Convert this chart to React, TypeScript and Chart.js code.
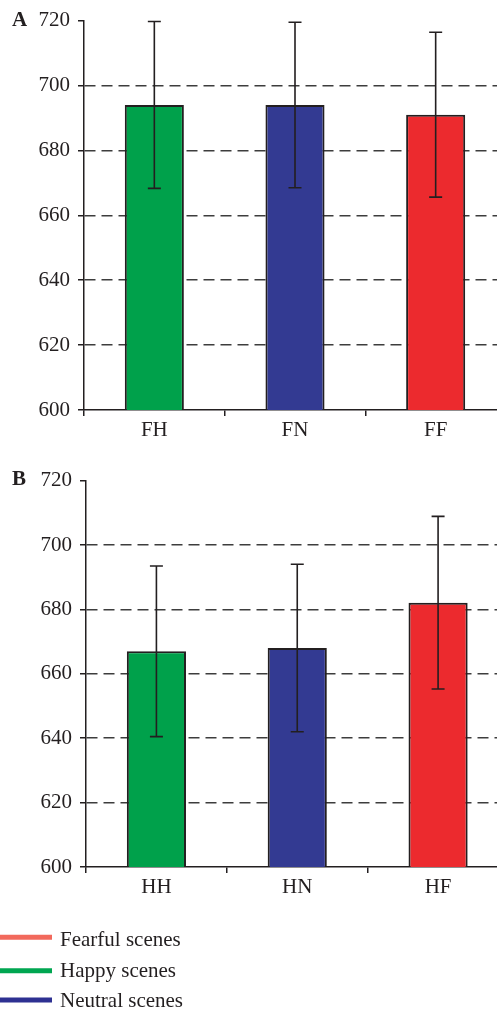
import React, { useEffect, useRef } from "react";
import { Chart, registerables } from "chart.js";

Chart.register(...registerables);

// ---- Data ----
const panelACategories = ["FH", "FN", "FF"];
const panelAMeans = [694, 694, 691];
const panelAErrors = [25.7, 25.5, 25.4];

const panelBCategories = ["HH", "HN", "HF"];
const panelBMeans = [667, 668, 682.1];
const panelBErrors = [26.5, 26, 26.8];

const barColors = ["#00a14b", "#333a92", "#ec2a2e"];
const yMin = 600;
const yMax = 720;
const yStep = 20;

const legendLabels = ["Fearful scenes", "Happy scenes", "Neutral scenes"];
const legendColors = ["#f2695c", "#00a651", "#2e3192"];

const INK = "#231f20";
const FONT = '"Liberation Serif", "Times New Roman", serif';
const FONT_SIZE = 21;

const errorBarPlugin = {
  id: "errorBars",
  afterDatasetsDraw(chart: any) {
    const ctx = chart.ctx;
    const meta = chart.getDatasetMeta(0);
    const ds: any = chart.data.datasets[0];
    const y = chart.scales.y;
    ctx.save();
    ctx.strokeStyle = INK;
    ctx.lineWidth = 1.6;
    meta.data.forEach((bar: any, i: number) => {
      const v = ds.data[i];
      const e = ds.errors[i];
      const yt = y.getPixelForValue(v + e);
      const yb = y.getPixelForValue(v - e);
      ctx.beginPath();
      ctx.moveTo(bar.x, yt);
      ctx.lineTo(bar.x, yb);
      ctx.moveTo(bar.x - 6.5, yt);
      ctx.lineTo(bar.x + 6.5, yt);
      ctx.moveTo(bar.x - 6.5, yb);
      ctx.lineTo(bar.x + 6.5, yb);
      ctx.stroke();
    });
    ctx.restore();
  },
};

function makePanelLabel(text: string, x: number, baseline: number) {
  return {
    id: "panelLabel" + text,
    afterDraw(chart: any) {
      const ctx = chart.ctx;
      ctx.save();
      ctx.fillStyle = INK;
      ctx.font = "bold " + FONT_SIZE + "px " + FONT;
      ctx.textBaseline = "alphabetic";
      ctx.textAlign = "left";
      ctx.fillText(text, x, baseline);
      ctx.restore();
    },
  };
}

const legendPlugin = {
  id: "sceneLegend",
  afterDraw(chart: any) {
    const ctx = chart.ctx;
    const lineYs = [477.3, 510.7, 540];
    const textYs = [485.7, 516.7, 547];
    ctx.save();
    legendLabels.forEach((label, i) => {
      ctx.strokeStyle = legendColors[i];
      ctx.lineWidth = 5;
      ctx.beginPath();
      ctx.moveTo(0, lineYs[i]);
      ctx.lineTo(52, lineYs[i]);
      ctx.stroke();
      ctx.fillStyle = INK;
      ctx.font = FONT_SIZE + "px " + FONT;
      ctx.textBaseline = "alphabetic";
      ctx.textAlign = "left";
      ctx.fillText(label, 60, textYs[i]);
    });
    ctx.restore();
  },
};

function makeConfig(
  categories: string[],
  means: number[],
  errors: number[],
  yWidth: number,
  padding: any,
  plugins: any[]
): any {
  return {
    type: "bar",
    data: {
      labels: categories,
      datasets: [
        {
          data: means,
          errors: errors,
          backgroundColor: barColors,
          borderColor: INK,
          borderWidth: 2,
          borderSkipped: "start",
          barPercentage: 0.42,
          categoryPercentage: 1,
        },
      ],
    },
    options: {
      responsive: false,
      animation: false,
      devicePixelRatio: 1,
      layout: { padding },
      plugins: {
        legend: { display: false },
        tooltip: { enabled: false },
      },
      scales: {
        x: {
          offset: true,
          afterFit: (s: any) => {
            s.height = 40;
          },
          grid: {
            offset: true,
            drawOnChartArea: false,
            drawTicks: true,
            tickLength: 6,
            tickColor: INK,
            tickWidth: 1.5,
            color: INK,
            lineWidth: 1.5,
          },
          border: { display: true, color: INK, width: 1.5 },
          ticks: {
            color: INK,
            padding: 2,
            font: { family: FONT, size: FONT_SIZE },
          },
        },
        y: {
          min: yMin,
          max: yMax,
          afterFit: (s: any) => {
            s.width = yWidth;
          },
          grid: {
            drawTicks: true,
            tickLength: 6,
            tickColor: INK,
            tickWidth: 1.5,
            lineWidth: 1.5,
            color: (c: any) =>
              c.tick && (c.tick.value === yMin || c.tick.value === yMax)
                ? "rgba(0,0,0,0)"
                : "#3d3d3d",
          },
          border: { display: true, color: INK, width: 1.5, dash: [11, 6] },
          ticks: {
            stepSize: yStep,
            color: INK,
            padding: 8,
            font: { family: FONT, size: FONT_SIZE },
          },
        },
      },
    },
    plugins,
  };
}

function ChartCanvas(props: { config: any; width: number; height: number; top: number }) {
  const ref = useRef<HTMLCanvasElement | null>(null);
  useEffect(() => {
    if (!ref.current) return;
    const chart = new Chart(ref.current, props.config);
    return () => chart.destroy();
  }, []);
  return (
    <canvas
      ref={ref}
      width={props.width}
      height={props.height}
      style={{
        position: "absolute",
        left: 0,
        top: props.top,
        width: props.width,
        height: props.height,
      }}
    />
  );
}

export default function App() {
  const configA = makeConfig(
    panelACategories,
    panelAMeans,
    panelAErrors,
    84,
    { top: 20, right: 14, left: 0, bottom: 0 },
    [errorBarPlugin, makePanelLabel("A", 12, 26)]
  );
  const configB = makeConfig(
    panelBCategories,
    panelBMeans,
    panelBErrors,
    86,
    { top: 20, right: 11.5, left: 0, bottom: 103 },
    [errorBarPlugin, makePanelLabel("B", 12, 25), legendPlugin]
  );
  return (
    <div
      style={{
        position: "absolute",
        left: 0,
        top: 0,
        width: 497,
        height: 1010,
        overflow: "hidden",
        background: "#ffffff",
      }}
    >
      <ChartCanvas config={configA} width={520} height={450} top={0} />
      <ChartCanvas config={configB} width={520} height={550} top={460} />
    </div>
  );
}
